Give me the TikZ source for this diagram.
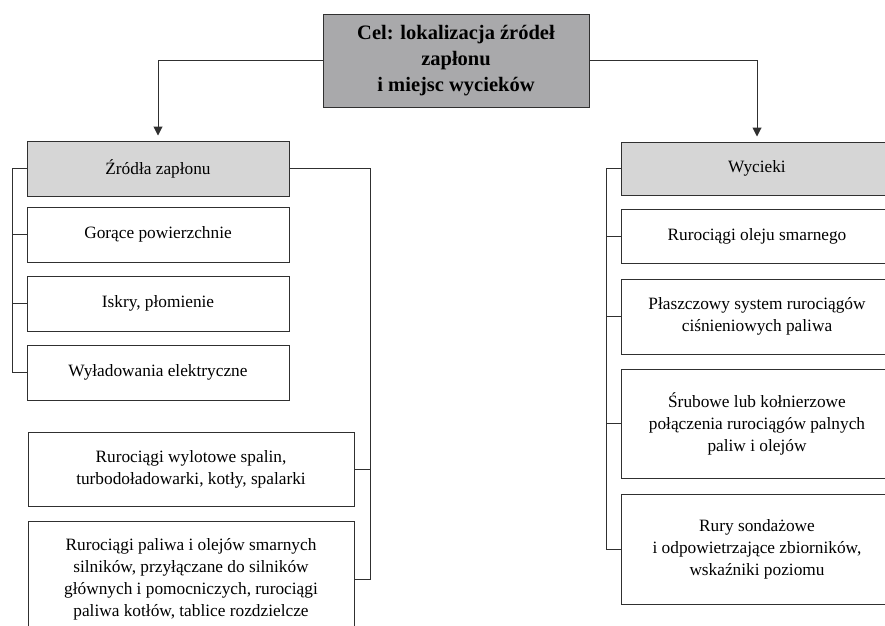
\documentclass[tikz,border=0pt]{standalone}
\usepackage{fontspec}
\setmainfont{Liberation Serif}
\usepackage{tikz}
\usetikzlibrary{arrows.meta,positioning}

\definecolor{goalgray}{HTML}{A9A9AB}
\definecolor{headgray}{HTML}{D6D6D6}
\definecolor{linegray}{HTML}{303030}

\tikzset{
  box/.style={draw=linegray, line width=1pt, align=center, inner sep=2pt,
    font=\fontsize{17.3}{22}\selectfont},
  headbox/.style={box, fill=headgray},
  goalbox/.style={box, fill=goalgray, font=\fontsize{20.5}{26}\selectfont\bfseries},
  conn/.style={draw=linegray, line width=1pt}
}

\begin{document}
\begin{tikzpicture}[>={Triangle[length=9pt,width=9pt]},x=1pt,y=-1pt]
\useasboundingbox (0,0) rectangle (885,625);
\clip (0,0) rectangle (885,625);
\def\lbus{12}
\def\rbusA{370}
\def\rbusB{606}

\node[goalbox, minimum width=266, minimum height=93] (goal) at (456,60.5)
  {Cel: lokalizacja źródeł\\zapłonu\\i miejsc wycieków};

\node[headbox, minimum width=262, minimum height=55] (src) at (158,168.5) {Źródła zapłonu};
\node[box, minimum width=262, minimum height=55] (hot) at (158,234.5) {Gorące powierzchnie};
\node[box, minimum width=262, minimum height=55] (spark) at (158,303.5) {Iskry, płomienie};
\node[box, minimum width=262, minimum height=55] (elec) at (158,372.5) {Wyładowania elektryczne};
\node[box, minimum width=326, minimum height=74] (exh) at (191,469)
  {Rurociągi wylotowe spalin,\\turbodoładowarki, kotły, spalarki};
\node[box, minimum width=326, minimum height=116] (fuel) at (191,579)
  {Rurociągi paliwa i olejów smarnych\\silników, przyłączane do silników\\głównych i pomocniczych, rurociągi\\paliwa kotłów, tablice rozdzielcze};

\node[headbox, minimum width=272, minimum height=53] (leak) at (757,168.5) {Wycieki};
\node[box, minimum width=272, minimum height=54] (oil) at (757,236) {Rurociągi oleju smarnego};
\node[box, minimum width=272, minimum height=75] (jacket) at (757,316.5)
  {Płaszczowy system rurociągów\\ciśnieniowych paliwa};
\node[box, minimum width=272, minimum height=109] (flange) at (757,423.5)
  {Śrubowe lub kołnierzowe\\połączenia rurociągów palnych\\paliw i olejów};
\node[box, minimum width=272, minimum height=110] (sound) at (757,549)
  {Rury sondażowe\\i odpowietrzające zbiorników,\\wskaźniki poziomu};

\draw[conn,->,shorten >=5pt] (goal.west) -| (src.north);
\draw[conn,->,shorten >=5pt] (goal.east) -| (leak.north);

\draw[conn] (src.west) -| (\lbus,0 |- elec.west) -- (elec.west);
\foreach \n in {hot,spark} {
  \draw[conn] (\n.west) -- (\lbus,0 |- \n.west);
}
\draw[conn] (src.east) -| (\rbusA,0 |- fuel.east) -- (fuel.east);
\draw[conn] (exh.east) -- (\rbusA,0 |- exh.east);

\draw[conn] (leak.west) -| (\rbusB,0 |- sound.west) -- (sound.west);
\foreach \n in {oil,jacket,flange} {
  \draw[conn] (\n.west) -- (\rbusB,0 |- \n.west);
}

\end{tikzpicture}
\end{document}
